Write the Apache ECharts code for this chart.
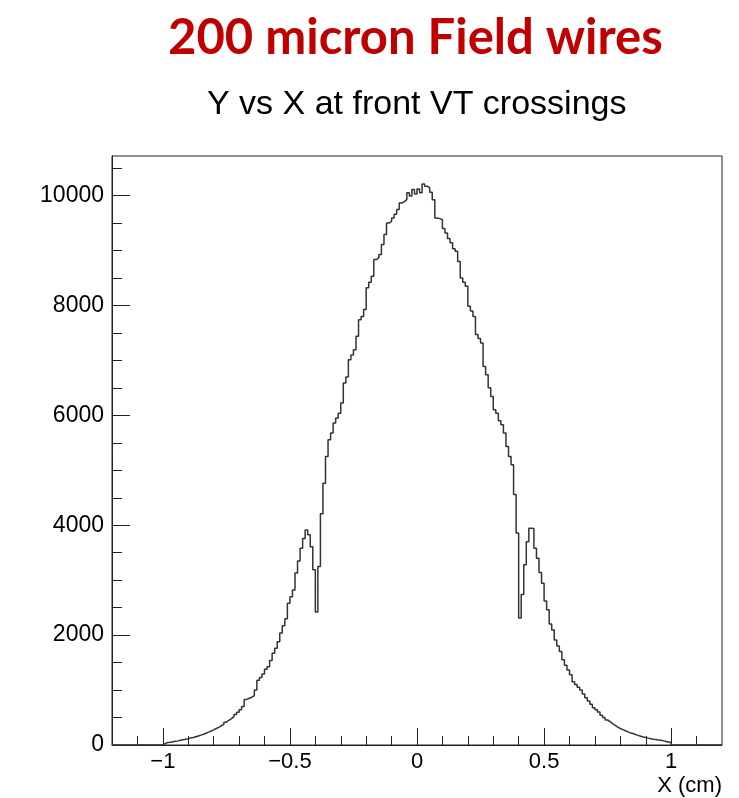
<!DOCTYPE html>
<html>
<head>
<meta charset="utf-8">
<script src="https://cdn.jsdelivr.net/npm/echarts@6/dist/echarts.min.js"></script>
<style>
  html, body { margin: 0; padding: 0; background: #ffffff; }
  #chart { width: 739px; height: 798px; }
</style>
</head>
<body>
<div id="chart"></div>
<script>
// Histogram of X at front VT crossings: 200 bins of 0.01 cm from -1 to 1
const binLow = -1.0;
const binWidth = 0.01;
const counts = [
  30, 45, 50, 60, 70, 75, 85, 95, 105, 115,              // -1.00 .. -0.91
  130, 135, 150, 165, 180, 195, 215, 235, 255, 275,      // -0.90 .. -0.81
  300, 320, 350, 375, 415, 450, 480, 515, 555, 595,      // -0.80 .. -0.71
  640, 700, 830, 850, 870, 900, 1000, 1180, 1230, 1290,  // -0.70 .. -0.61
  1380, 1425, 1540, 1670, 1760, 1880, 2040, 2170, 2300, 2580, // -0.60 .. -0.51
  2700, 2820, 3130, 3350, 3580, 3760, 3915, 3825, 3610, 3190, // -0.50 .. -0.41
  2420, 3250, 4210, 4765, 5250, 5555, 5680, 5860, 5950, 6040, // -0.40 .. -0.31
  6225, 6590, 6700, 7010, 7100, 7195, 7440, 7740, 7800, 7925, // -0.30 .. -0.21
  8320, 8420, 8530, 8835, 8870, 8925, 9110, 9290, 9500, 9530, // -0.20 .. -0.11
  9590, 9660, 9745, 9865, 9890, 9925, 10050, 9990, 10110, 10030, // -0.10 .. -0.01
  10120, 10050, 10210, 10170, 10140, 10060, 9925, 9590, 9580, 9560, // 0.00 .. 0.09
  9400, 9320, 9220, 9140, 9030, 8985, 8800, 8500, 8420, 8350, // 0.10 .. 0.19
  7985, 7900, 7800, 7470, 7400, 7315, 6890, 6740, 6500, 6345, // 0.20 .. 0.29
  6100, 6040, 5900, 5830, 5680, 5435, 5250, 5100, 4560, 3860, // 0.30 .. 0.39
  2310, 2740, 3280, 3700, 3945, 3940, 3580, 3400, 3140, 2945, // 0.40 .. 0.49
  2620, 2460, 2200, 2095, 1910, 1800, 1700, 1550, 1450, 1365, // 0.50 .. 0.59
  1280, 1150, 1100, 1050, 1000, 930, 860, 800, 740, 680,      // 0.60 .. 0.69
  640, 600, 540, 500, 455, 425, 390, 355, 325, 300,           // 0.70 .. 0.79
  280, 260, 240, 220, 210, 190, 175, 160, 145, 135,           // 0.80 .. 0.89
  125, 115, 105, 100, 90, 85, 75, 65, 55, 45                  // 0.90 .. 0.99
];

const xRange = [-1.2, 1.2];
const yRange = [0, 10720];
const xMajorTicks = [-1, -0.5, 0, 0.5, 1];
const xMinorTicks = [-1.1, -0.9, -0.8, -0.7, -0.6, -0.4, -0.3, -0.2, -0.1,
                     0.1, 0.2, 0.3, 0.4, 0.6, 0.7, 0.8, 0.9, 1.1];
const yMajorTicks = [0, 2000, 4000, 6000, 8000, 10000];
const yMinorTicks = [500, 1000, 1500, 2500, 3000, 3500, 4500, 5000, 5500,
                     6500, 7000, 7500, 8500, 9000, 9500, 10500];

// Step outline: one point per bin lower edge, closed to zero at both ends
const outline = [[xRange[0], 0]];
counts.forEach((c, i) => outline.push([+(binLow + i * binWidth).toFixed(2), c]));
outline.push([+(binLow + counts.length * binWidth).toFixed(2), 0], [xRange[1], 0]);

const axisColor = '#222';
const labelFont = 'Liberation Sans, Arial, sans-serif';
const plain = v => String(v).replace('-', '\u2212');

const chart = echarts.init(document.getElementById('chart'), null, { renderer: 'canvas' });
chart.setOption({
  animation: false,
  backgroundColor: '#ffffff',
  grid: {
    left: 112, right: 17, top: 156, bottom: 53,
    show: true, borderColor: axisColor, borderWidth: 1, backgroundColor: 'transparent'
  },
  graphic: [
    {
      type: 'text', x: 168, y: 14,
      style: {
        text: '200 micron Field wires', fill: '#c00000',
        font: 'bold 49px Lato, "Open Sans", sans-serif',
        textAlign: 'left', textVerticalAlign: 'top'
      }
    },
    {
      type: 'text', x: 207, y: 88,
      style: {
        text: 'Y vs X at front VT crossings', fill: '#000000',
        font: '34px ' + labelFont,
        textAlign: 'left', textVerticalAlign: 'top'
      }
    },
    {
      type: 'text', x: 722, y: 775,
      style: {
        text: 'X (cm)', fill: '#000000', font: '22px ' + labelFont,
        textAlign: 'right', textVerticalAlign: 'top'
      }
    }
  ],
  xAxis: [
    {
      type: 'value', min: xRange[0], max: xRange[1],
      axisLine: { show: true, onZero: false, lineStyle: { color: axisColor, width: 1 } },
      axisTick: { show: true, inside: true, length: 17, customValues: xMajorTicks,
                  lineStyle: { color: axisColor, width: 1 } },
      axisLabel: { show: true, customValues: xMajorTicks, formatter: plain,
                   fontSize: 22, fontFamily: labelFont, color: '#000', margin: 6 },
      splitLine: { show: false }
    },
    {
      type: 'value', min: xRange[0], max: xRange[1], position: 'bottom',
      axisLine: { show: false, onZero: false },
      axisTick: { show: true, inside: true, length: 9, customValues: xMinorTicks,
                  lineStyle: { color: axisColor, width: 1 } },
      axisLabel: { show: false },
      splitLine: { show: false }
    }
  ],
  yAxis: [
    {
      type: 'value', min: yRange[0], max: yRange[1],
      axisLine: { show: true, onZero: false, lineStyle: { color: axisColor, width: 1 } },
      axisTick: { show: true, inside: true, length: 18, customValues: yMajorTicks,
                  lineStyle: { color: axisColor, width: 1 } },
      axisLabel: { show: true, customValues: yMajorTicks, formatter: plain,
                   fontSize: 23, fontFamily: labelFont, color: '#000', margin: 8 },
      splitLine: { show: false }
    },
    {
      type: 'value', min: yRange[0], max: yRange[1], position: 'left',
      axisLine: { show: false, onZero: false },
      axisTick: { show: true, inside: true, length: 10, customValues: yMinorTicks,
                  lineStyle: { color: axisColor, width: 1 } },
      axisLabel: { show: false },
      splitLine: { show: false }
    }
  ],
  series: [
    {
      type: 'line', xAxisIndex: 0, yAxisIndex: 0,
      data: outline, step: 'end', showSymbol: false, symbol: 'none',
      lineStyle: { color: '#333333', width: 1.5 },
      silent: true
    }
  ]
});
</script>
</body>
</html>
